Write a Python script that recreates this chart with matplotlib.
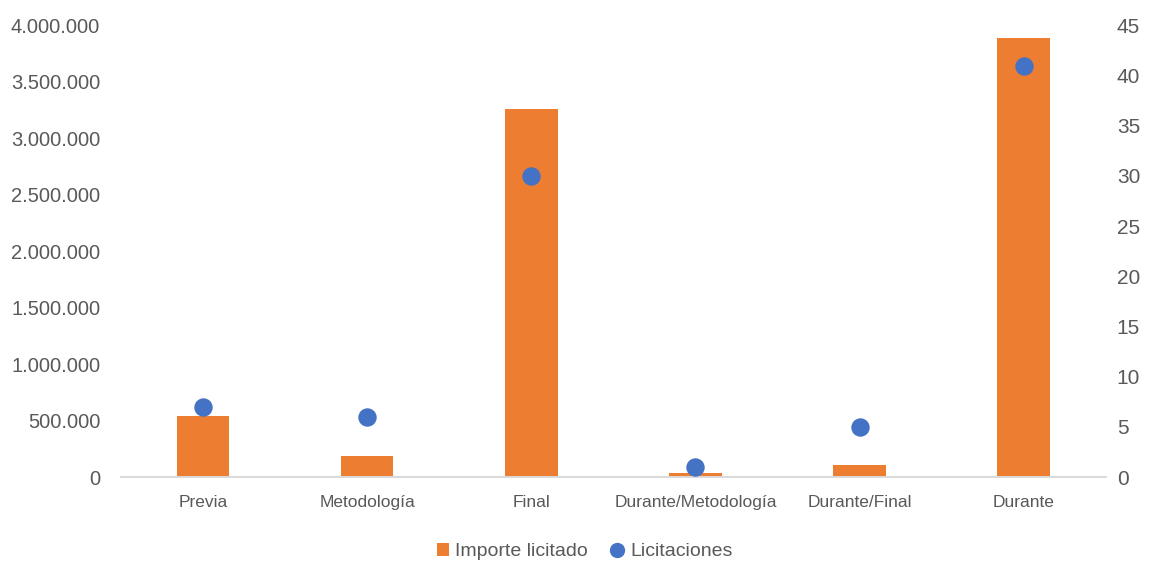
import matplotlib.pyplot as plt
import matplotlib.ticker as mticker
from matplotlib.lines import Line2D
from matplotlib.patches import Patch

plt.rcParams['font.family'] = ['Liberation Sans Narrow', 'Liberation Sans', 'DejaVu Sans']

categories = ["Previa", "Metodología", "Final", "Durante/Metodología", "Durante/Final", "Durante"]
importe = [545000, 185000, 3260000, 40000, 105000, 3885000]
licitaciones = [7, 6, 30, 1, 5, 41]

orange = "#ED7D31"
blue = "#4472C4"
textc = "#595959"

def dotted(v, pos):
    return "{:,.0f}".format(v).replace(",", ".")

fig = plt.figure(figsize=(11.53, 5.64), dpi=100)
ax = fig.add_axes([0.105, 0.154, 0.854, 0.801])
ax2 = ax.twinx()

x = range(len(categories))
ax.bar(x, importe, width=0.32, color=orange, zorder=2)
ax2.scatter(x, licitaciones, s=150, color=blue, zorder=3)

ax.set_xlim(-0.5, len(categories) - 0.5)
ax.set_ylim(0, 4000000)
ax2.set_ylim(0, 45)
ax.yaxis.set_major_locator(mticker.MultipleLocator(500000))
ax.yaxis.set_major_formatter(mticker.FuncFormatter(dotted))
ax2.yaxis.set_major_locator(mticker.MultipleLocator(5))

ax.set_xticks(list(x))
ax.set_xticklabels(categories)

for a in (ax, ax2):
    for s in ("top", "left", "right"):
        a.spines[s].set_visible(False)
    a.spines["bottom"].set_color("#D9D9D9")
    a.spines["bottom"].set_linewidth(1.2)
    a.tick_params(length=0, colors=textc)
ax.tick_params(axis="y", labelsize=14.5, pad=15)
ax2.tick_params(axis="y", labelsize=15, pad=8)
ax.tick_params(axis="x", labelsize=12.5, pad=13)

handles = [Patch(facecolor=orange, label="Importe licitado"),
           Line2D([], [], marker="o", linestyle="", markersize=10, color=blue, label="Licitaciones")]
fig.legend(handles=handles, loc="center", bbox_to_anchor=(0.507, 0.022), ncol=2,
           frameon=False, fontsize=14, handlelength=0.6, handletextpad=0.35, columnspacing=1.2,
           labelcolor=textc)

fig.savefig("out.png", dpi=100)
